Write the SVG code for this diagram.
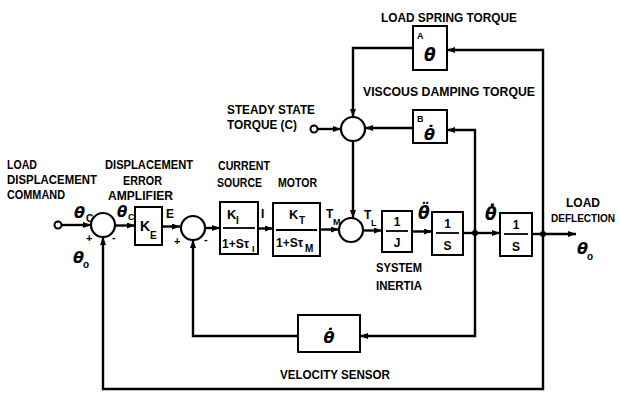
<svg xmlns="http://www.w3.org/2000/svg" width="620" height="395" viewBox="0 0 620 395">
<style>
.ln{fill:none;stroke:#000;stroke-width:2.4}
.bx{fill:#fff;stroke:#000;stroke-width:2}
.cr{fill:#fff;stroke:#000;stroke-width:2.2}
.lb{font-family:"Liberation Sans",Arial,sans-serif;font-weight:bold;font-size:12px;fill:#000}
.gr{font-family:"DejaVu Sans",sans-serif;font-weight:bold;font-style:italic;fill:#000}
.mt{font-family:"Liberation Sans",Arial,sans-serif;font-weight:bold;fill:#000}
.fr{stroke:#000;stroke-width:1.8}
</style>
<defs>
<marker id="ah" markerUnits="userSpaceOnUse" markerWidth="8" markerHeight="6" refX="8" refY="3" orient="auto">
<path d="M0,0 L8,3 L0,6 z" fill="#000"/>
</marker>
</defs>
<rect width="620" height="395" fill="#fff"/>

<g id="connectors">
<path class="ln" d="M61.5,225 H91" marker-end="url(#ah)"/>
<path class="ln" d="M115,225.5 H135" marker-end="url(#ah)"/>
<path class="ln" d="M162,226.5 H180" marker-end="url(#ah)"/>
<path class="ln" d="M206,228 H220" marker-end="url(#ah)"/>
<path class="ln" d="M258,228.5 H273" marker-end="url(#ah)"/>
<path class="ln" d="M320,229.5 H339" marker-end="url(#ah)"/>
<path class="ln" d="M363,230.5 H382" marker-end="url(#ah)"/>
<path class="ln" d="M412,231.5 H432" marker-end="url(#ah)"/>
<path class="ln" d="M463,233 H475"/>
<path class="ln" d="M475,233 H500" marker-end="url(#ah)"/>
<path class="ln" d="M532,234 H543"/>
<path class="ln" d="M543,234 H576" marker-end="url(#ah)"/>
<path class="ln" d="M543,234 V389 H103 V237" marker-end="url(#ah)"/>
<path class="ln" d="M475,233 V336 H360" marker-end="url(#ah)"/>
<path class="ln" d="M298,336 H193 V240" marker-end="url(#ah)"/>
<path class="ln" d="M475,233 V130 H447" marker-end="url(#ah)"/>
<path class="ln" d="M543,234 V50 H447" marker-end="url(#ah)"/>
<path class="ln" d="M413,48 H353 V117" marker-end="url(#ah)"/>
<path class="ln" d="M413,128 H365" marker-end="url(#ah)"/>
<path class="ln" d="M317.5,129 H341" marker-end="url(#ah)"/>
<path class="ln" d="M353,141 V218" marker-end="url(#ah)"/>
<circle cx="475" cy="233" r="3" fill="#000"/>
<circle cx="543" cy="234" r="3" fill="#000"/>
</g>

<g id="input">
<circle cx="58" cy="225" r="3.5" fill="#fff" stroke="#000" stroke-width="2"/>
<text class="lb" x="7" y="169" textLength="30" lengthAdjust="spacingAndGlyphs">LOAD</text>
<text class="lb" x="7" y="184" textLength="90" lengthAdjust="spacingAndGlyphs">DISPLACEMENT</text>
<text class="lb" x="7" y="199" textLength="58" lengthAdjust="spacingAndGlyphs">COMMAND</text>
<text class="gr" x="74" y="218" font-size="16">θ</text>
<text class="mt" x="86" y="222" font-size="10">C</text>
<text class="gr" x="73" y="263" font-size="16">θ</text>
<text class="mt" x="83" y="268" font-size="10">o</text>
</g>

<g id="sum1">
<circle class="cr" cx="103" cy="225" r="12"/>
<text class="mt" x="86" y="242" font-size="11">+</text>
<text class="mt" x="112" y="241" font-size="11">-</text>
</g>

<g id="ke">
<text class="lb" x="105" y="169" textLength="88" lengthAdjust="spacingAndGlyphs">DISPLACEMENT</text>
<text class="lb" x="123" y="185" textLength="39" lengthAdjust="spacingAndGlyphs">ERROR</text>
<text class="lb" x="108" y="200" textLength="65" lengthAdjust="spacingAndGlyphs">AMPLIFIER</text>
<rect class="bx" x="135" y="207" width="27" height="38"/>
<text class="gr" x="117" y="217" font-size="15">θ</text>
<text class="mt" x="128" y="220" font-size="9">C</text>
<text class="mt" x="140" y="231" font-size="14">K</text>
<text class="mt" x="150" y="239" font-size="10">E</text>
<text class="mt" x="166" y="218" font-size="12">E</text>
</g>

<g id="sum2">
<circle class="cr" cx="193" cy="228" r="12"/>
<text class="mt" x="174" y="245" font-size="11">+</text>
<text class="mt" x="204" y="243" font-size="11">-</text>
</g>

<g id="ki">
<text class="lb" x="218" y="170" textLength="52" lengthAdjust="spacingAndGlyphs">CURRENT</text>
<text class="lb" x="217" y="187" textLength="45" lengthAdjust="spacingAndGlyphs">SOURCE</text>
<rect class="bx" x="220" y="202" width="38" height="52"/>
<line class="fr" x1="223" y1="228" x2="255" y2="228"/>
<text class="mt" x="227" y="219" font-size="13">K</text>
<text class="mt" x="236" y="224" font-size="10">I</text>
<text class="mt" x="222" y="248" font-size="12">1+Sτ</text>
<text class="mt" x="252" y="252" font-size="9">I</text>
<text class="mt" x="261" y="218" font-size="12">I</text>
</g>

<g id="motor">
<text class="lb" x="278" y="187" textLength="39" lengthAdjust="spacingAndGlyphs">MOTOR</text>
<rect class="bx" x="273" y="203" width="47" height="53"/>
<line class="fr" x1="276" y1="230" x2="317" y2="230"/>
<text class="mt" x="289" y="219" font-size="13">K</text>
<text class="mt" x="299" y="224" font-size="10">T</text>
<text class="mt" x="276" y="247" font-size="12">1+Sτ</text>
<text class="mt" x="305" y="252" font-size="10">M</text>
<text class="mt" x="326" y="218" font-size="12">T</text>
<text class="mt" x="333" y="225" font-size="9">M</text>
</g>

<g id="sum3">
<circle class="cr" cx="351" cy="230" r="12"/>
<text class="mt" x="364" y="219" font-size="12">T</text>
<text class="mt" x="371" y="226" font-size="9">L</text>
</g>

<g id="inertia">
<rect class="bx" x="382" y="211" width="30" height="41"/>
<line class="fr" x1="386" y1="231" x2="408" y2="231"/>
<text class="mt" x="397" y="226" font-size="12" text-anchor="middle">1</text>
<text class="mt" x="397" y="247" font-size="12" text-anchor="middle">J</text>
<text class="lb" x="376" y="272" textLength="46" lengthAdjust="spacingAndGlyphs">SYSTEM</text>
<text class="lb" x="376" y="290" textLength="46" lengthAdjust="spacingAndGlyphs">INERTIA</text>
<text class="gr" x="418" y="219" font-size="17">θ̈</text>
</g>

<g id="int1">
<rect class="bx" x="432" y="212" width="31" height="43"/>
<line class="fr" x1="436" y1="233" x2="459" y2="233"/>
<text class="mt" x="447.5" y="228" font-size="12" text-anchor="middle">1</text>
<text class="mt" x="447.5" y="250" font-size="12" text-anchor="middle">S</text>
<text class="gr" x="485" y="220" font-size="17">θ̇</text>
</g>

<g id="int2">
<rect class="bx" x="500" y="213" width="32" height="43"/>
<line class="fr" x1="504" y1="234" x2="528" y2="234"/>
<text class="mt" x="516" y="229" font-size="12" text-anchor="middle">1</text>
<text class="mt" x="516" y="251" font-size="12" text-anchor="middle">S</text>
</g>

<g id="output">
<text class="lb" x="566" y="207" textLength="34" lengthAdjust="spacingAndGlyphs">LOAD</text>
<text class="lb" x="551" y="222" font-size="10.5" textLength="64" lengthAdjust="spacingAndGlyphs" style="font-size:10.5px">DEFLECTION</text>
<text class="gr" x="577" y="254" font-size="16">θ</text>
<text class="mt" x="587" y="260" font-size="10">o</text>
</g>

<g id="spring">
<text class="lb" x="381" y="22" textLength="136" lengthAdjust="spacingAndGlyphs">LOAD SPRING TORQUE</text>
<rect class="bx" x="413" y="26" width="34" height="44"/>
<text class="mt" x="417" y="39" font-size="9">A</text>
<text class="gr" x="424" y="61" font-size="17">θ</text>
</g>

<g id="damping">
<text class="lb" x="363" y="96" textLength="172" lengthAdjust="spacingAndGlyphs">VISCOUS DAMPING TORQUE</text>
<rect class="bx" x="413" y="110" width="34" height="33"/>
<text class="mt" x="417" y="122" font-size="9">B</text>
<text class="gr" x="424" y="140" font-size="16">θ̇</text>
</g>

<g id="sumTop">
<circle class="cr" cx="353" cy="129" r="12"/>
</g>

<g id="steady">
<circle cx="314" cy="129" r="3.5" fill="#fff" stroke="#000" stroke-width="2"/>
<text class="lb" x="227" y="114" textLength="88" lengthAdjust="spacingAndGlyphs">STEADY STATE</text>
<text class="lb" x="227" y="129" textLength="70" lengthAdjust="spacingAndGlyphs">TORQUE (C)</text>
</g>

<g id="velocity">
<rect class="bx" x="298" y="315" width="62" height="37"/>
<text class="gr" x="329" y="343" font-size="16" text-anchor="middle">θ̇</text>
<text class="lb" x="280" y="379" textLength="110" lengthAdjust="spacingAndGlyphs">VELOCITY SENSOR</text>
</g>
</svg>
